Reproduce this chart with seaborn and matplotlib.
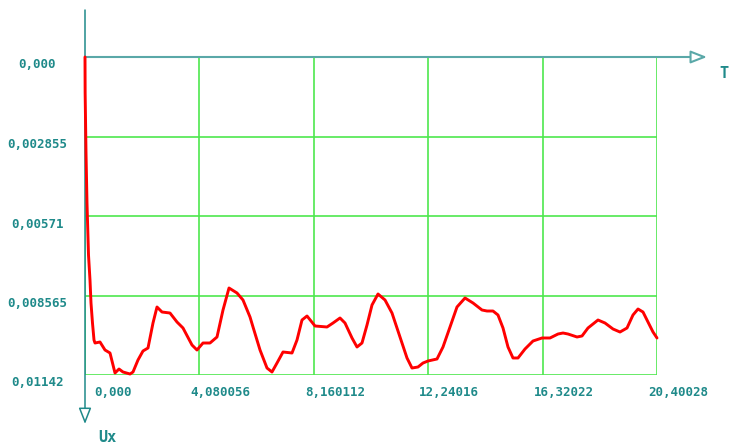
"""Recreation of a displacement-vs-time trace (Ux against T) with inverted Ux axis."""
import matplotlib

matplotlib.use("Agg")
import matplotlib.pyplot as plt
import pandas as pd
import seaborn as sns

# --- data ---
t_values = [
    0.000, 0.005, 0.036, 0.071, 0.125, 0.178, 0.214, 0.267, 0.321, 0.357,
    0.535, 0.713, 0.892, 1.070, 1.213, 1.355, 1.605, 1.712, 1.890, 2.068,
    2.247, 2.425, 2.568, 2.746, 3.031, 3.281, 3.495, 3.816, 3.994, 4.208,
    4.458, 4.708, 4.922, 5.136, 5.421, 5.635, 5.885, 5.992, 6.242, 6.491,
    6.669, 6.848, 7.062, 7.383, 7.561, 7.739, 7.918, 8.203, 8.631, 8.845,
    9.095, 9.273, 9.523, 9.701, 9.879, 10.058, 10.236, 10.450, 10.700, 10.949,
    11.234, 11.484, 11.662, 11.876, 12.055, 12.233, 12.554, 12.768, 13.018, 13.267,
    13.553, 13.838, 14.159, 14.337, 14.551, 14.729, 14.908, 15.086, 15.264, 15.443,
    15.693, 15.978, 16.299, 16.584, 16.870, 17.048, 17.227, 17.548, 17.726, 17.939,
    18.296, 18.546, 18.831, 19.081, 19.331, 19.544, 19.723, 19.901, 20.079, 20.258,
    20.400,
]
ux_values = [
    0.000000, 0.001293, 0.003448, 0.005243, 0.007111, 0.008008, 0.008834, 0.009553, 0.010163, 0.010271,
    0.010235, 0.010522, 0.010630, 0.011348, 0.011205, 0.011312, 0.011384, 0.011312, 0.010881, 0.010558,
    0.010450, 0.009553, 0.008978, 0.009158, 0.009194, 0.009517, 0.009732, 0.010343, 0.010522, 0.010271,
    0.010271, 0.010055, 0.009086, 0.008296, 0.008475, 0.008727, 0.009337, 0.009696, 0.010522, 0.011169,
    0.011312, 0.010989, 0.010594, 0.010630, 0.010163, 0.009445, 0.009301, 0.009660, 0.009696, 0.009553,
    0.009373, 0.009553, 0.010091, 0.010414, 0.010271, 0.009624, 0.008906, 0.008511, 0.008727, 0.009194,
    0.010055, 0.010809, 0.011169, 0.011133, 0.010989, 0.010917, 0.010845, 0.010414, 0.009696, 0.008978,
    0.008655, 0.008834, 0.009086, 0.009122, 0.009122, 0.009265, 0.009732, 0.010414, 0.010809, 0.010809,
    0.010486, 0.010199, 0.010091, 0.010091, 0.009948, 0.009912, 0.009948, 0.010055, 0.010019, 0.009732,
    0.009445, 0.009553, 0.009768, 0.009876, 0.009732, 0.009265, 0.009050, 0.009158, 0.009517, 0.009876,
    0.010091,
]
x_ticks = [0.0, 4.080056, 8.160112, 12.24016, 16.32022, 20.40028]
x_tick_labels = ["0,000", "4,080056", "8,160112", "12,24016", "16,32022", "20,40028"]
y_ticks = [0.0, 0.002855, 0.00571, 0.008565, 0.01142]
y_tick_labels = ["0,000", "0,002855", "0,00571", "0,008565", "0,01142"]
x_name = "T"
y_name = "Ux"

TEAL = "#1f8a8a"
AXIS_TEAL = "#5aa8a8"
GRID_GREEN = "#4ee84e"
RED = "#ff0000"
W, H = 729, 445

sns.set_style("white")
plt.rcParams["font.family"] = ["DejaVu Sans Mono", "DejaVu Sans"]

fig = plt.figure(figsize=(W / 100, H / 100), dpi=100)
# axes box: T=0 at x=85px, T=max at 657px; Ux=0 at y=57px, Ux=max at 375px
ax = fig.add_axes([85 / W, (H - 375) / H, (657 - 85) / W, (375 - 57) / H])

df = pd.DataFrame({"T": t_values, "Ux": ux_values})

ax.set_xlim(0, x_ticks[-1])
ax.set_ylim(y_ticks[-1], 0)
for s in ax.spines.values():
    s.set_visible(False)
ax.set_xticks(x_ticks)
ax.set_yticks(y_ticks)
ax.set_xticklabels([])
ax.set_yticklabels([])
ax.tick_params(length=0)
ax.grid(True, color=GRID_GREEN, linewidth=1.2)
ax.set_axisbelow(True)

# main axes lines with hollow arrow heads
arrow_style = "-|>,head_length=1.4,head_width=0.55"
ax.annotate("", xy=(707, H - 57), xytext=(85, H - 57), xycoords="figure pixels",
            textcoords="figure pixels",
            arrowprops=dict(arrowstyle=arrow_style, fc="white", ec=AXIS_TEAL, lw=1.5,
                            mutation_scale=7, shrinkA=0, shrinkB=0))
ax.annotate("", xy=(85, H - 424), xytext=(85, H - 10), xycoords="figure pixels",
            textcoords="figure pixels",
            arrowprops=dict(arrowstyle=arrow_style, fc="white", ec=TEAL, lw=1.1,
                            mutation_scale=7, shrinkA=0, shrinkB=0))

sns.lineplot(data=df, x="T", y="Ux", ax=ax, color=RED, linewidth=2.1,
             estimator=None, sort=False, legend=False, clip_on=False, zorder=5)
ax.set_xlabel("")
ax.set_ylabel("")

label_kw = dict(color=TEAL, fontsize=9, fontweight="bold", textcoords="offset pixels",
                annotation_clip=False)
for i, (xv, lab) in enumerate(zip(x_ticks, x_tick_labels)):
    dx = 28 if i == 0 else 21
    ax.annotate(lab, xy=(xv, 0), xycoords=("data", "axes fraction"), xytext=(dx, -17),
                ha="center", va="center", **label_kw)
for yv, lab in zip(y_ticks, y_tick_labels):
    ax.annotate(lab, xy=(0, yv), xycoords=("axes fraction", "data"), xytext=(-48, -8),
                ha="center", va="center", **label_kw)

fig.text(724 / W, 1 - 73 / H, x_name, color=TEAL, fontsize=11, fontweight="bold",
         ha="center", va="center")
fig.text(107 / W, 1 - 438 / H, y_name, color=TEAL, fontsize=11, fontweight="bold",
         ha="center", va="center")

fig.savefig("out.png", dpi=100)
